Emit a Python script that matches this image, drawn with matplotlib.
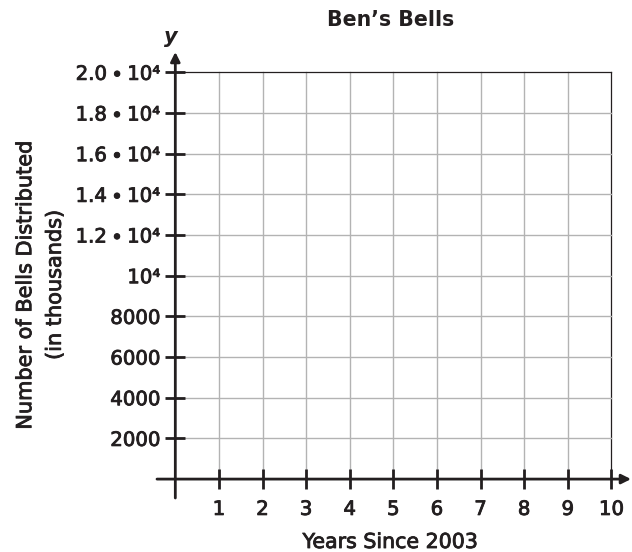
import matplotlib
matplotlib.use("Agg")
import matplotlib.pyplot as plt
import matplotlib.patheffects as pe

plt.rcParams['font.family'] = ['DejaVu Sans']

title = "Ben\u2019s Bells"
x_label = "Years Since 2003"
y_label = "Number of Bells Distributed\n(in thousands)"
x_ticks = [1, 2, 3, 4, 5, 6, 7, 8, 9, 10]
x_tick_labels = ["1", "2", "3", "4", "5", "6", "7", "8", "9", "10"]
y_ticks = [2000, 4000, 6000, 8000, 10000, 12000, 14000, 16000, 18000, 20000]
y_tick_labels = ["2000", "4000", "6000", "8000", "10\u2074",
                 "1.2\u2009\u2219\u200910\u2074", "1.4\u2009\u2219\u200910\u2074",
                 "1.6\u2009\u2219\u200910\u2074", "1.8\u2009\u2219\u200910\u2074",
                 "2.0\u2009\u2219\u200910\u2074"]

ink = "#231f20"
grid_col = "#b3b3b3"
heavier = [pe.withStroke(linewidth=0.6, foreground=ink)]

W, H = 632, 552
fig = plt.figure(figsize=(W / 100, H / 100), dpi=100)
left_px, right_px, top_px, bottom_px = 157, 631, 52, 498
ax = fig.add_axes([left_px / W, 1 - bottom_px / H,
                   (right_px - left_px) / W, (bottom_px - top_px) / H])
ax.set_xlim(-0.42, 10.45)
ax.set_ylim(-930, 21000)

# grid lines
for xv in x_ticks:
    ax.plot([xv, xv], [0, y_ticks[-1]],
            color=ink if xv == x_ticks[-1] else grid_col,
            lw=0.9 if xv == x_ticks[-1] else 1.0, zorder=1)
for yv in y_ticks:
    ax.plot([0, x_ticks[-1]], [yv, yv],
            color=ink if yv == y_ticks[-1] else grid_col,
            lw=0.9 if yv == y_ticks[-1] else 1.0, zorder=1)

# axes with arrows
for s in ax.spines.values():
    s.set_visible(False)
ax.spines['left'].set_position(('data', 0))
ax.spines['bottom'].set_position(('data', 0))
ax.annotate("", xy=(10.45, 0), xytext=(-0.42, 0),
            arrowprops=dict(arrowstyle="-|>", color=ink, lw=2.0,
                            mutation_scale=14, shrinkA=0, shrinkB=0), zorder=3)
ax.annotate("", xy=(0, 21000), xytext=(0, -930),
            arrowprops=dict(arrowstyle="-|>", color=ink, lw=2.0,
                            mutation_scale=14, shrinkA=0, shrinkB=0), zorder=3)

ax.set_xticks(x_ticks)
ax.set_xticklabels(x_tick_labels)
ax.set_yticks(y_ticks)
ax.set_yticklabels(y_tick_labels)
ax.tick_params(axis='both', direction='inout', length=14, width=2.0,
               colors=ink, labelsize=14.2, labelcolor=ink)
ax.tick_params(axis='x', pad=8)
ax.tick_params(axis='y', pad=4)
for lab in ax.get_xticklabels() + ax.get_yticklabels():
    lab.set_path_effects(heavier)

ax.text(-0.1, 21250, "y", fontsize=15, fontstyle='italic', fontweight='bold',
        color=ink, ha='center', va='bottom')

fig.text(391 / W, 1 - 20 / H, title, fontsize=14.8, fontweight='bold',
         color=ink, ha='center', va='center')
fig.text(390 / W, 1 - 542 / H, x_label, fontsize=14.8, color=ink,
         ha='center', va='center', path_effects=heavier)
fig.text(40 / W, 1 - 285 / H, y_label, fontsize=15, color=ink,
         ha='center', va='center', rotation=90, linespacing=1.6,
         path_effects=heavier)

fig.savefig("out.png", dpi=100)
